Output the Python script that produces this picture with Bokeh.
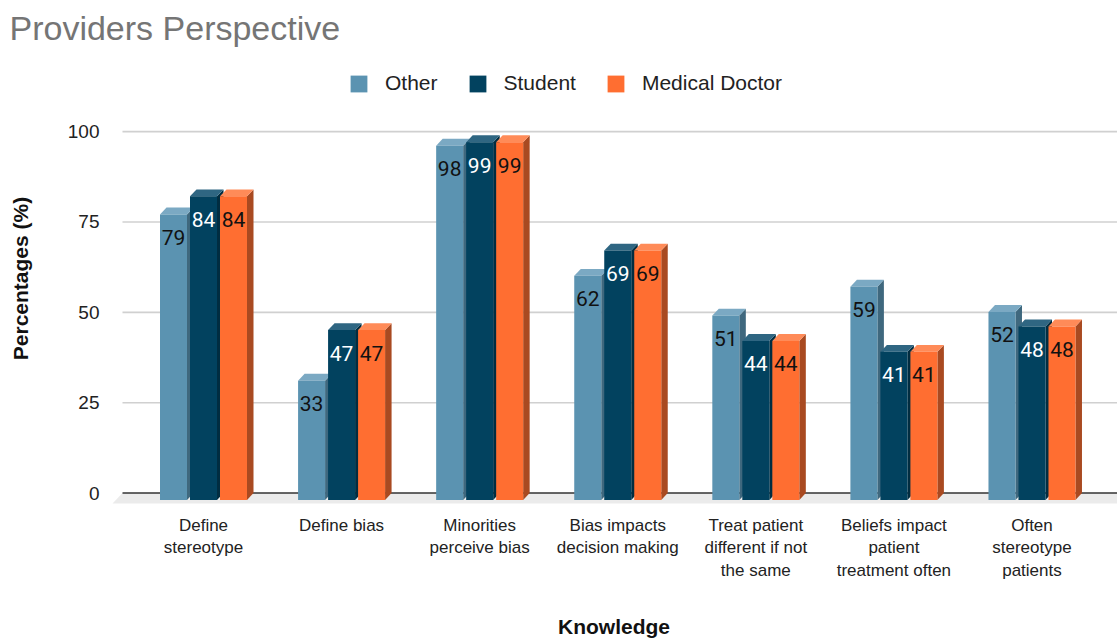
from bokeh.plotting import figure
from bokeh.models import Range1d, FixedTicker, Legend, LegendItem
from bokeh.core.properties import value
from bokeh.embed import file_html
from bokeh.resources import INLINE

# ---- data ----
categories = [
    "Define\nstereotype",
    "Define bias",
    "Minorities\nperceive bias",
    "Bias impacts\ndecision making",
    "Treat patient\ndifferent if not\nthe same",
    "Beliefs impact\npatient\ntreatment often",
    "Often\nstereotype\npatients",
]
series_names = ["Other", "Student", "Medical Doctor"]
other = [79, 33, 98, 62, 51, 59, 52]
student = [84, 47, 99, 69, 44, 41, 48]
doctor = [84, 47, 99, 69, 44, 41, 48]
y_ticks = [0, 25, 50, 75, 100]

# ---- styling ----
FONT = "Liberation Sans"
front_colors = ["#5B93B1", "#02425F", "#FF6E31"]
top_colors = ["#7BA9C3", "#2F6682", "#FF8B58"]
side_colors = ["#3F687E", "#012D41", "#A94A21"]
label_colors = ["#111111", "#FFFFFF", "#111111"]

PX_PER_UNIT_Y = 3.63      # vertical pixels per percentage point
PX_PER_GROUP = 138.08     # horizontal pixels between category centres
frame_top, frame_bottom = 50, 508
zero_px = 494.5

y_start = (zero_px - frame_bottom) / PX_PER_UNIT_Y
y_end = (zero_px - frame_top) / PX_PER_UNIT_Y
x_start = (110 - 203) / PX_PER_GROUP
x_end = (1117 - 203) / PX_PER_GROUP

bar_pitch = 30 / PX_PER_GROUP
half_w = 13.5 / PX_PER_GROUP
depth_x = 6.5 / PX_PER_GROUP
depth_y = 6.9 / PX_PER_UNIT_Y
wall_x0 = (122 - 203) / PX_PER_GROUP
floor_depth = 10.5 / PX_PER_UNIT_Y

p = figure(
    width=1117, height=641,
    x_range=Range1d(x_start, x_end), y_range=Range1d(y_start, y_end),
    output_backend="svg", toolbar_location=None,
    min_border_left=110, min_border_right=0,
    min_border_top=frame_top, min_border_bottom=641 - frame_bottom,
)
p.outline_line_color = None
p.xgrid.visible = False
p.ygrid.visible = False
p.background_fill_color = "white"
p.border_fill_color = "white"

# title
p.title.text = "Providers Perspective"
p.title.align = "left"
p.title.offset = -101
p.title.text_font = FONT
p.title.text_font_size = "34px"
p.title.text_font_style = "normal"
p.title.text_color = "#757575"
p.title.standoff = 8

# floor under the bars
p.patch(
    x=[wall_x0, x_end, x_end, wall_x0 - 10 / PX_PER_GROUP],
    y=[0, 0, -floor_depth, -floor_depth],
    fill_color="#EBEBEB", line_color=None,
)

# back-wall gridlines
grid_ticks = [t for t in y_ticks if t != 0]
p.segment(x0=[wall_x0] * len(grid_ticks), y0=grid_ticks,
          x1=[x_end] * len(grid_ticks), y1=grid_ticks,
          line_color="#D0D0D0", line_width=1.6)
p.segment(x0=[wall_x0], y0=[0], x1=[x_end], y1=[0],
          line_color="#333333", line_width=1.6)

# 3D columns
legend_items = []
for s, vals in enumerate([other, student, doctor]):
    fronts_x, fronts_y, sides_x, sides_y, tops_x, tops_y = [], [], [], [], [], []
    label_x, label_y = [], []
    for i, v in enumerate(vals):
        xc = i + (s - 1) * bar_pitch
        xl, xr = xc - half_w, xc + half_w
        fronts_x.append([xl, xr, xr, xl])
        fronts_y.append([-depth_y, -depth_y, v - depth_y, v - depth_y])
        sides_x.append([xr, xr + depth_x, xr + depth_x, xr])
        sides_y.append([-depth_y, 0, v, v - depth_y])
        tops_x.append([xl, xr, xr + depth_x, xl + depth_x])
        tops_y.append([v - depth_y, v - depth_y, v, v])
        label_x.append(xc)
        label_y.append(v - 30 / PX_PER_UNIT_Y)
    p.patches(sides_x, sides_y, fill_color=side_colors[s], line_color=None)
    p.patches(tops_x, tops_y, fill_color=top_colors[s], line_color=None)
    r = p.patches(fronts_x, fronts_y, fill_color=front_colors[s], line_color=None)
    p.text(x=label_x, y=label_y, text=[str(v) for v in vals],
           text_align="center", text_baseline="middle",
           text_color=label_colors[s], text_font=value("Roboto"),
           text_font_size="21px")
    legend_items.append(LegendItem(label=series_names[s], renderers=[r]))

legend = Legend(
    items=legend_items, orientation="horizontal",
    location=(238, frame_bottom - 97),
    glyph_width=21, glyph_height=21, label_height=21,
    label_standoff=16, spacing=29, padding=0, margin=0,
    label_text_font=FONT, label_text_font_size="21px", label_text_color="#222222",
    border_line_color=None, background_fill_alpha=0,
)
p.add_layout(legend)

# y axis
p.yaxis.ticker = FixedTicker(ticks=y_ticks)
p.yaxis.axis_line_color = None
p.yaxis.major_tick_line_color = None
p.yaxis.minor_tick_line_color = None
p.yaxis.major_label_standoff = 5
p.yaxis.major_label_text_font = FONT
p.yaxis.major_label_text_font_size = "19px"
p.yaxis.major_label_text_color = "#222222"
p.yaxis.axis_label = "Percentages (%)"
p.yaxis.axis_label_text_font = FONT
p.yaxis.axis_label_text_font_size = "21px"
p.yaxis.axis_label_text_font_style = "bold"
p.yaxis.axis_label_text_color = "#111111"
p.yaxis.axis_label_standoff = 33

# x axis with category names
p.xaxis.ticker = FixedTicker(ticks=list(range(len(categories))))
p.xaxis.major_label_overrides = {i: c for i, c in enumerate(categories)}
p.xaxis.axis_line_color = None
p.xaxis.major_tick_line_color = None
p.xaxis.minor_tick_line_color = None
p.xaxis.major_label_standoff = 3
p.xaxis.major_label_text_font = FONT
p.xaxis.major_label_text_font_size = "17px"
p.xaxis.major_label_text_color = "#222222"
p.xaxis.axis_label = "Knowledge"
p.xaxis.axis_label_text_font = FONT
p.xaxis.axis_label_text_font_size = "21px"
p.xaxis.axis_label_text_font_style = "bold"
p.xaxis.axis_label_text_color = "#111111"
p.xaxis.axis_label_standoff = 32

open("out.html", "w").write(file_html(p, INLINE))
